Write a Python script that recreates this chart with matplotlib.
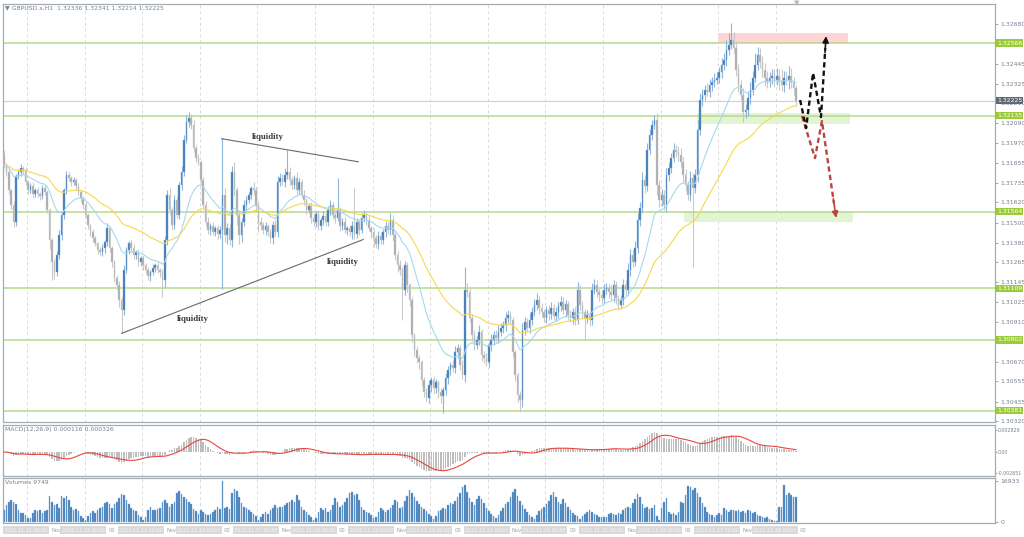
import numpy as np
import pandas as pd
import matplotlib
matplotlib.use('Agg')
import matplotlib.pyplot as plt
from matplotlib.transforms import blended_transform_factory

# GBPUSD H1, closes in points above 1.30000
first_open = 1900
close_pts = [
    1841, 1799, 1692, 1603, 1502, 1776, 1799, 1823, 1811, 1740,
    1692, 1716, 1669, 1692, 1669, 1657, 1704, 1681, 1574, 1395,
    1264, 1205, 1306, 1425, 1544, 1692, 1782, 1764, 1740, 1752,
    1716, 1681, 1645, 1603, 1544, 1484, 1443, 1407, 1377, 1336,
    1324, 1348, 1383, 1467, 1348, 1264, 1169, 1128, 1039, 979,
    1217, 1336, 1377, 1348, 1306, 1324, 1264, 1288, 1247, 1217,
    1181, 1205, 1229, 1247, 1217, 1205, 1157, 1395, 1663, 1574,
    1484, 1633, 1544, 1722, 1799, 1990, 2097, 2120, 2079, 1942,
    1883, 1859, 1752, 1603, 1502, 1455, 1478, 1443, 1467, 1431,
    1455, 1663, 1425, 1467, 1395, 1799, 1692, 1544, 1425, 1502,
    1603, 1633, 1663, 1704, 1692, 1603, 1502, 1484, 1455, 1478,
    1443, 1407, 1484, 1443, 1740, 1764, 1740, 1782, 1799, 1752,
    1722, 1764, 1692, 1740, 1663, 1633, 1574, 1597, 1526, 1502,
    1550, 1478, 1514, 1538, 1502, 1574, 1603, 1544, 1526, 1574,
    1478, 1502, 1455, 1467, 1443, 1478, 1431, 1502, 1455, 1526,
    1550, 1514, 1467, 1443, 1407, 1371, 1419, 1395, 1443, 1478,
    1455, 1514, 1425, 1306, 1247, 1217, 1098, 1247, 1128, 1039,
    830, 741, 694, 670, 563, 492, 456, 533, 563, 515,
    551, 492, 468, 503, 575, 622, 652, 634, 729, 753,
    652, 593, 1098, 1086, 932, 830, 771, 801, 848, 711,
    694, 670, 771, 801, 830, 813, 848, 872, 890, 932,
    949, 920, 729, 593, 474, 444, 860, 908, 872, 920,
    967, 1009, 1039, 991, 967, 932, 979, 955, 991, 943,
    967, 1003, 1027, 979, 1015, 949, 932, 967, 920, 1098,
    1009, 967, 932, 949, 920, 1098, 1128, 1086, 1068, 1050,
    1098, 1110, 1086, 1068, 1128, 1050, 1009, 1039, 1128, 1098,
    1217, 1306, 1264, 1348, 1514, 1585, 1752, 1716, 1930, 2019,
    2079, 2109, 1722, 1633, 1663, 1603, 1782, 1823, 1883, 1930,
    1918, 1901, 1859, 1782, 1722, 1663, 1764, 1704, 1782, 2049,
    2228, 2257, 2287, 2275, 2317, 2335, 2346, 2358, 2394, 2436,
    2465, 2525, 2554, 2584, 2537, 2406, 2317, 2257, 2156, 2168,
    2239, 2287, 2358, 2436, 2495, 2453, 2406, 2358, 2335, 2358,
    2370, 2346, 2370, 2335, 2317, 2358, 2346, 2370, 2335, 2299,
    2225,
]
# upper / lower shadow lengths in points
wick_up = [
    30, 15, 20, 10, 25, 15, 20, 25, 15, 20,
    15, 20, 25, 15, 20, 10, 20, 25, 15, 10,
    15, 20, 25, 30, 20, 15, 25, 20, 15, 20,
    15, 20, 10, 15, 20, 15, 10, 20, 15, 10,
    20, 25, 15, 30, 15, 10, 15, 20, 25, 20,
    30, 20, 15, 20, 25, 15, 20, 15, 10, 15,
    20, 15, 25, 15, 20, 15, 20, 25, 30, 40,
    20, 30, 25, 20, 35, 30, 40, 35, 25, 30,
    20, 25, 15, 20, 25, 30, 20, 25, 15, 20,
    25, 339, 40, 30, 25, 35, 60, 20, 30, 25,
    30, 25, 20, 15, 35, 20, 25, 30, 20, 25,
    15, 20, 25, 30, 35, 30, 25, 40, 130, 30,
    25, 20, 35, 25, 20, 30, 15, 20, 25, 30,
    20, 25, 15, 30, 20, 25, 30, 20, 25, 190,
    20, 25, 30, 15, 20, 30, 226, 25, 20, 30,
    25, 20, 30, 15, 25, 20, 30, 25, 20, 30,
    25, 40, 30, 20, 25, 30, 20, 25, 20, 15,
    20, 15, 25, 20, 15, 20, 25, 30, 20, 25,
    20, 15, 25, 20, 30, 25, 20, 30, 35, 25,
    20, 30, 137, 40, 25, 20, 30, 25, 40, 20,
    25, 30, 20, 35, 25, 30, 40, 30, 25, 35,
    30, 25, 20, 15, 20, 25, 45, 30, 25, 40,
    30, 35, 40, 25, 30, 20, 25, 30, 35, 25,
    30, 25, 35, 30, 25, 20, 30, 25, 30, 47,
    30, 25, 20, 30, 25, 40, 35, 30, 25, 30,
    35, 30, 25, 40, 30, 25, 20, 30, 35, 30,
    40, 35, 30, 45, 40, 35, 50, 30, 40, 35,
    30, 29, 40, 30, 35, 30, 40, 35, 30, 40,
    30, 35, 40, 30, 35, 25, 40, 30, 35, 60,
    40, 35, 30, 40, 35, 30, 40, 35, 30, 40,
    45, 60, 70, 100, 50, 40, 35, 30, 40, 35,
    40, 50, 45, 70, 50, 40, 35, 45, 40, 35,
    40, 45, 50, 40, 80, 45, 40, 60, 50, 30,
    20,
]
wick_dn = [
    15, 20, 25, 20, 30, 25, 15, 20, 25, 20,
    20, 15, 25, 20, 15, 25, 20, 15, 20, 50,
    107, 40, 25, 20, 30, 25, 20, 15, 25, 20,
    20, 15, 25, 20, 15, 20, 25, 20, 15, 25,
    20, 25, 30, 20, 25, 30, 25, 30, 40, 138,
    30, 20, 25, 30, 20, 25, 20, 25, 30, 20,
    25, 30, 20, 25, 20, 30, 100, 40, 30, 25,
    30, 25, 20, 25, 30, 25, 20, 30, 25, 20,
    25, 20, 30, 25, 20, 25, 30, 20, 25, 30,
    25, 351, 40, 50, 30, 40, 35, 60, 50, 40,
    25, 30, 20, 25, 30, 35, 60, 30, 25, 30,
    25, 30, 35, 25, 30, 25, 20, 30, 25, 30,
    20, 25, 30, 25, 20, 30, 25, 20, 30, 25,
    30, 20, 25, 30, 25, 20, 30, 25, 30, 20,
    30, 25, 20, 30, 25, 40, 30, 25, 30, 20,
    25, 30, 20, 35, 50, 25, 30, 20, 25, 30,
    25, 30, 35, 30, 40, 30, 178, 30, 40, 35,
    40, 35, 30, 40, 35, 30, 25, 30, 40, 35,
    30, 35, 40, 100, 30, 35, 30, 25, 30, 35,
    30, 25, 40, 30, 25, 35, 30, 25, 30, 35,
    30, 25, 30, 35, 30, 25, 30, 25, 30, 35,
    30, 25, 30, 35, 40, 71, 40, 30, 25, 30,
    30, 25, 30, 35, 30, 25, 30, 35, 30, 25,
    30, 35, 30, 25, 40, 30, 25, 35, 30, 25,
    30, 35, 131, 30, 35, 30, 25, 30, 35, 30,
    30, 25, 35, 30, 40, 35, 30, 25, 30, 35,
    30, 35, 30, 25, 30, 35, 30, 40, 30, 25,
    30, 25, 60, 40, 35, 30, 40, 35, 30, 25,
    30, 35, 30, 40, 35, 30, 35, 469, 30, 40,
    30, 35, 30, 25, 30, 35, 30, 25, 30, 35,
    30, 35, 30, 25, 30, 35, 40, 30, 60, 35,
    30, 35, 30, 25, 30, 35, 40, 45, 35, 30,
    35, 40, 30, 45, 35, 40, 30, 50, 35, 40,
    30,
]
volumes = [
    5200, 7200, 8600, 9300, 8400, 7500, 5200, 4000, 3800, 3100,
    1700, 1700, 3800, 5200, 4500, 5200, 4000, 4500, 5200, 11100,
    8400, 7200, 7500, 5900, 11100, 10000, 11100, 9300, 6500, 5000,
    5400, 4500, 2800, 1700, 1000, 2600, 4000, 4500, 3800, 4900,
    5900, 6500, 7900, 8600, 7500, 5900, 7500, 8400, 10000, 11700,
    11400, 9300, 7500, 5900, 5200, 4700, 3100, 2400, 1000, 2000,
    4900, 6500, 5200, 4900, 5600, 5900, 8600, 9300, 7900, 6500,
    7500, 8400, 12100, 12800, 11700, 10700, 9800, 8600, 7500, 5600,
    4500, 3500,
    5200, 4400, 3600, 3000, 3400, 4400, 5200, 6500, 5600, 16933,
    6000, 6500, 5600, 12100, 14000, 13000, 10500, 7900, 6500, 5800,
    4900, 4400, 3600, 2800, 1000, 2300, 3500, 4400, 3600, 5200,
    5800, 7200, 5800, 6500, 6500, 7000, 7900, 8500, 9300, 8500,
    11300, 9300, 6500, 5200, 4400, 3000, 2300, 1000, 1800, 4400,
    5800, 4900, 5800, 4400, 5200, 7200, 10000, 8600, 6500, 7200,
    8600, 10000, 12100, 12700, 11300, 11800, 9300, 6500, 5200, 4400,
    3800, 3000, 1700, 2300, 4400, 5800, 5200, 4400, 5200, 5800,
    7200, 9200, 8600, 5800, 6500,
    9000, 11000, 13400, 12000, 10500, 9000, 7500, 6500, 5500, 4500,
    3500, 2500, 1500, 2800, 4500, 5200, 6000, 5500, 7000, 8000,
    7500, 9000, 10500, 12000, 14500, 15500, 12500, 10000, 8500, 7000,
    9500, 11000, 9500, 8000, 6000, 4500, 3500, 2500, 1800, 3000,
    4500, 6000, 7500, 8500, 10500, 12500, 14000, 11000, 9000, 7000,
    5500, 4200, 3000, 2000, 1500, 3200, 4800, 5500, 6200, 7500,
    9000, 11500, 12500, 10500, 8500, 7500, 9500, 8000, 6500, 5000,
    4000, 3200, 2500, 1500, 2800, 3500, 4200, 5000, 4200, 3500,
    3000, 2400,
    2000, 2400, 2200, 3500, 3800, 3600, 3200, 3800, 3500, 5200,
    6000, 6500, 5800, 8000, 9800, 11700, 10500, 7500, 5800, 6500,
    5500, 6000, 7000, 2500, 1000, 5800, 8600, 10000, 4400, 3500,
    3800, 3000, 4400, 8600, 7900, 11500, 14900, 14500, 13500, 14200,
    12100, 10700, 8000, 6500, 4400, 3600, 3000, 2300, 3000, 3800,
    3000, 5800, 5200, 4400, 5200, 5000, 4800, 5200, 4400, 4800,
    4000, 5200, 4800, 3800, 4400, 3000, 2500, 2200, 1700, 2000,
    1500, 1000, 600, 400, 6500, 6500, 15600, 11500, 12100, 11200,
    10700, 10700,
]
assert len(close_pts) == len(wick_up) == len(wick_dn) == len(volumes)

levels = [1.32566, 1.32135, 1.31564, 1.31109, 1.30802, 1.30381]
last_price = 1.32225
price_ticks = [1.32680, 1.32445, 1.32325, 1.32210, 1.32090, 1.31970,
               1.31855, 1.31735, 1.31620, 1.31500, 1.31380, 1.31265, 1.31145,
               1.31025, 1.30910, 1.30670, 1.30555, 1.30435, 1.30320]
days = ['2025.11.11', '2025.11.12', '2025.11.13', '2025.11.14', '2025.11.17',
        '2025.11.18', '2025.11.19', '2025.11.20', '2025.11.21', '2025.11.24',
        '2025.11.25', '2025.11.26', '2025.11.27', '2025.11.28']

# zones and hand drawn scenario (bar index, price)
sell_zone = (297.5, 351.7, 1.32566, 1.32626)
buy_zones = [(288.8, 352.5, 1.32085, 1.32150), (283.3, 353.8, 1.31505, 1.31564)]
liq_lines = [((90.7, 1.31998), (147.6, 1.31861)), ((49.0, 1.30841), (149.7, 1.31399))]
liq_text = [(110, 1.32008), (141.3, 1.31264), (78.8, 1.30925)]
blk_x = [331.7, 334.2, 337.1, 340.4, 342.5]
blk_y = [1.32228, 1.32062, 1.32389, 1.32127, 1.32608]
red_x = [332.5, 337.9, 340.8, 346.7]
red_y = [1.32133, 1.31883, 1.32103, 1.31527]

W, H = 1024, 537
fig = plt.figure(figsize=(W / 100, H / 100), dpi=100)
fig.patch.set_facecolor('white')


def rect(x0, y0, x1, y1):
    return [x0 / W, 1 - y1 / H, (x1 - x0) / W, (y1 - y0) / H]


ax = fig.add_axes(rect(3, 4, 995, 422))
ax_m = fig.add_axes(rect(3, 425, 995, 476))
ax_v = fig.add_axes(rect(3, 478, 995, 523))

lbl_col = '#76818f'
FS = 4.4
XL = (-0.42, 412.9)
grid_x = [9.6 + 24 * k for k in range(14)]

for a in (ax, ax_m, ax_v):
    a.set_xlim(*XL)
    a.set_xticks([])
    for s in a.spines.values():
        s.set_color('#a3abb3')
        s.set_linewidth(0.9)
    a.yaxis.tick_right()
    a.tick_params(axis='y', labelsize=FS, labelcolor=lbl_col, colors='#8f99a4',
                  length=2.5, width=0.6, pad=1.5)
    for gx in grid_x:
        a.axvline(gx, color='#dadada', lw=0.7, ls=(0, (3, 3)), zorder=0)

# ---- prices
close = 1.3 + np.array(close_pts) / 1e5
opn = np.r_[1.3 + first_open / 1e5, close[:-1]]
top = np.maximum(opn, close)
bot = np.minimum(opn, close)
high = top + np.array(wick_up) / 1e5
low = bot - np.array(wick_dn) / 1e5
idx = np.arange(len(close))
up = close >= opn

ax.set_ylim(1.30314, 1.32799)
ax.set_yticks(price_ticks)
ax.set_yticklabels(['%.5f' % t for t in price_ticks])

x0, x1, y0, y1 = sell_zone
ax.fill_between([x0, x1], y0, y1, color='#ffd4d6', lw=0, zorder=1)
for x0, x1, y0, y1 in buy_zones:
    ax.fill_between([x0, x1], y0, y1, color='#e3f4d2', lw=0, zorder=1)

for lv in levels:
    ax.axhline(lv, color='#b5db8c', lw=1.1, zorder=2)
ax.axhline(last_price, color='#d2d2d2', lw=0.9, zorder=2)

ax.vlines(idx[up], low[up], high[up], color='#8fb5db', lw=0.8, zorder=3)
ax.vlines(idx[~up], low[~up], high[~up], color='#c9c9c9', lw=0.8, zorder=3)
body = np.maximum(top - bot, 0.00003)
ax.bar(idx[up], body[up], bottom=bot[up], width=0.62, color='#3b77b3',
       edgecolor='#86b0d8', lw=0.3, zorder=4)
ax.bar(idx[~up], body[~up], bottom=bot[~up], width=0.62, color='#a9a9a9',
       edgecolor='#d0d0d0', lw=0.3, zorder=4)

s = pd.Series(close)
ax.plot(idx, s.ewm(span=20, adjust=False).mean(), color='#a6d8f0', lw=0.8, zorder=5)
ax.plot(idx, s.ewm(span=50, adjust=False).mean(), color='#f6d84c', lw=0.8, zorder=5)

for (xa, ya), (xb, yb) in liq_lines:
    ax.plot([xa, xb], [ya, yb], color='#6a6a6a', lw=0.8, zorder=5)
for tx, ty in liq_text:
    ax.text(tx, ty, 'liquidity', fontsize=6.3, family=['Liberation Serif'],
            weight='bold', color='#3a3a3a', ha='center', va='center', zorder=6)


def dashed_arrow(xs, ys, col):
    ax.plot(xs[:-1] + [xs[-2] + (xs[-1] - xs[-2]) * 0.85],
            ys[:-1] + [ys[-2] + (ys[-1] - ys[-2]) * 0.85],
            color=col, lw=1.7, ls=(0, (2.2, 1.4)), zorder=7)
    ax.annotate('', xy=(xs[-1], ys[-1]),
                xytext=(xs[-2] + (xs[-1] - xs[-2]) * 0.8, ys[-2] + (ys[-1] - ys[-2]) * 0.8),
                arrowprops=dict(arrowstyle='-|>', color=col, lw=1.2,
                                mutation_scale=9, shrinkA=0, shrinkB=0), zorder=8)


dashed_arrow(red_x, red_y, '#b8443f')
dashed_arrow(blk_x, blk_y, '#111111')

bl = blended_transform_factory(ax.transAxes, ax.transData)
for lv in levels:
    ax.text(1.002, lv, '%.5f' % lv, transform=bl, fontsize=FS, color='white',
            va='center', ha='left', clip_on=False, zorder=10,
            bbox=dict(boxstyle='square,pad=0.2', fc='#9bcb3b', ec='none'))
ax.text(1.002, last_price, '%.5f' % last_price, transform=bl, fontsize=FS,
        color='white', va='center', ha='left', clip_on=False, zorder=10,
        bbox=dict(boxstyle='square,pad=0.2', fc='#5e6975', ec='none'))

# ---- MACD
ema12 = s.ewm(span=12, adjust=False).mean()
ema26 = s.ewm(span=26, adjust=False).mean()
macd = ema12 - ema26
signal = macd.rolling(9, min_periods=1).mean()
ax_m.set_ylim(-0.003066, 0.00346)
ax_m.bar(idx, macd, width=0.6, color='#bdbdbd', zorder=2)
ax_m.plot(idx, signal, color='#e8463e', lw=0.8, zorder=3)
ax_m.set_yticks([0.002826, 0.0, -0.002651])
ax_m.set_yticklabels(['0.002826', '0.00', '-0.002651'])
ax_m.tick_params(axis='y', labelsize=3.4, pad=0.5, length=1.5)

# ---- volumes
ax_v.set_ylim(-290, 18385)
ax_v.bar(idx, volumes, width=0.7, color='#3f7bb6', edgecolor='#8ab3dc', lw=0.3, zorder=2)
ax_v.set_yticks([16933, 0])
ax_v.set_yticklabels(['16933', '0'])

# ---- texts
fig.text(5 / W, 1 - 7.5 / H, '\u25bc GBPUSD.s,H1  1.32336 1.32341 1.32214 1.32225',
         fontsize=FS, color=lbl_col, va='center')
fig.text(5 / W, 1 - 430 / H, 'MACD(12,26,9) 0.000116 0.000326', fontsize=FS,
         color=lbl_col, va='center')
fig.text(5 / W, 1 - 483 / H, 'Volumes 9749', fontsize=FS, color=lbl_col, va='center')
fig.text(797 / W, 1 - 3 / H, '\u25bc', fontsize=5, color='#b8b8b8', ha='center', va='center')

dt = blended_transform_factory(ax_v.transData, fig.transFigure)
for k, d in enumerate(days):
    xd = 24 * k
    fig.text(xd, 1 - 530 / H, d + ' 00:00', transform=dt, fontsize=3.5,
             color='#f4f4f4', va='center', ha='left',
             bbox=dict(boxstyle='square,pad=0.25', fc='#d9d9d9', ec='none'))
    fig.text(xd + 19.6, 1 - 530 / H, 'Nov' if k % 2 == 0 else '00', transform=dt,
             fontsize=3.8, color='#9aa2ab', va='center', ha='left')

fig.savefig('out.png', dpi=100, facecolor='white')
